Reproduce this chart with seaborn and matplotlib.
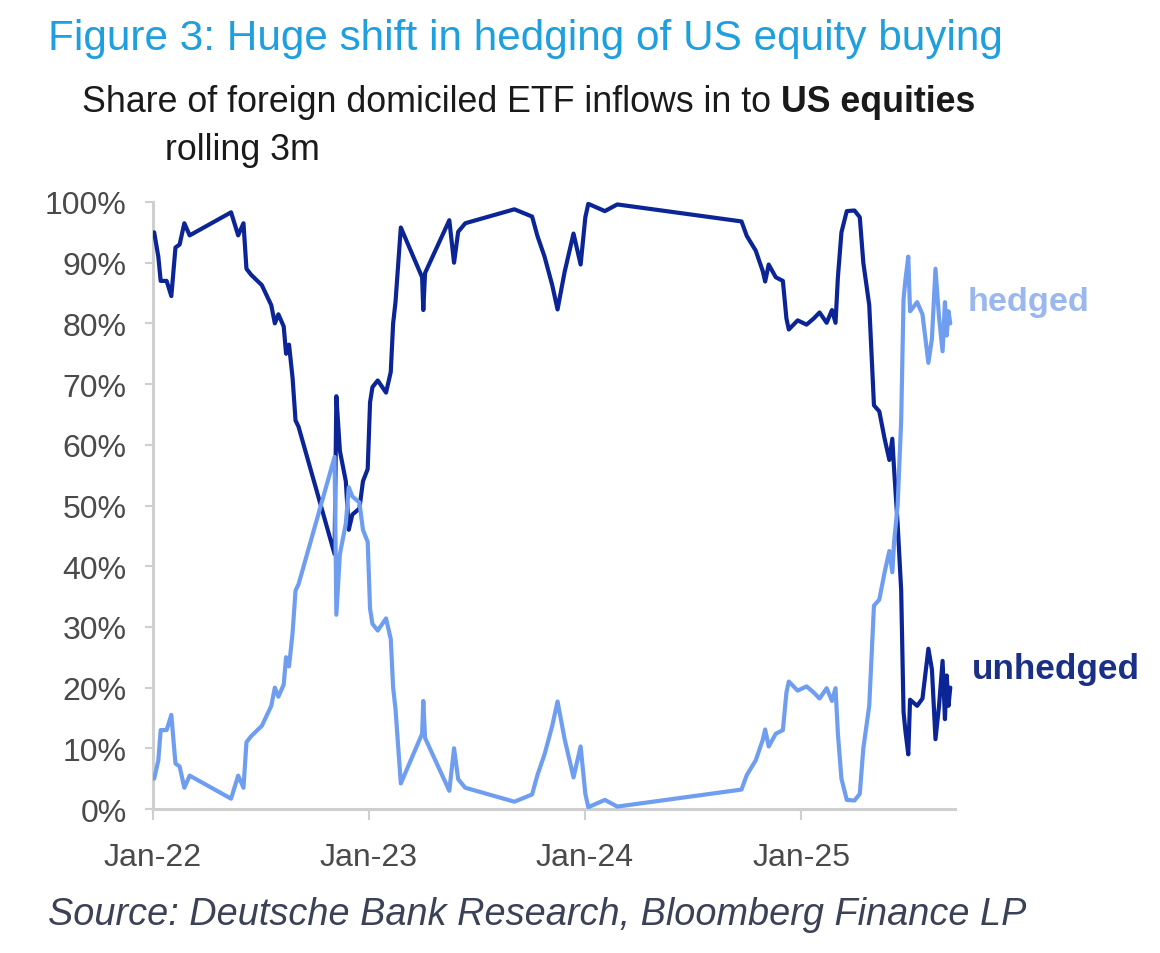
import matplotlib
matplotlib.use("Agg")
import matplotlib.pyplot as plt
import matplotlib.ticker as mticker
import seaborn as sns
import pandas as pd

# ---------------- data ----------------
dates = [
    "2022-01-03", "2022-01-10", "2022-01-14", "2022-01-24", "2022-02-01", "2022-02-08",
    "2022-02-15", "2022-02-23", "2022-03-04", "2022-05-13", "2022-05-25", "2022-06-03",
    "2022-06-08", "2022-06-16", "2022-07-04", "2022-07-20", "2022-07-26", "2022-08-01",
    "2022-08-10", "2022-08-14", "2022-08-19", "2022-08-25", "2022-08-30", "2022-09-04",
    "2022-11-04", "2022-11-07", "2022-11-13", "2022-11-23", "2022-11-28", "2022-12-04",
    "2022-12-16", "2022-12-22", "2022-12-30", "2023-01-03", "2023-01-07", "2023-01-16",
    "2023-01-30", "2023-02-07", "2023-02-11", "2023-02-15", "2023-02-24", "2023-04-01",
    "2023-04-03", "2023-04-06", "2023-05-17", "2023-05-25", "2023-06-01", "2023-06-13",
    "2023-09-04", "2023-10-04", "2023-10-13", "2023-10-25", "2023-11-07", "2023-11-16",
    "2023-11-28", "2023-12-13", "2023-12-25", "2024-01-02", "2024-01-07", "2024-02-04",
    "2024-02-25", "2024-09-22", "2024-10-01", "2024-10-16", "2024-10-28", "2024-11-01",
    "2024-11-07", "2024-11-19", "2024-12-01", "2024-12-07", "2024-12-11", "2024-12-19",
    "2024-12-26", "2025-01-10", "2025-01-22", "2025-02-01", "2025-02-13", "2025-02-22",
    "2025-02-28", "2025-03-04", "2025-03-10", "2025-03-19", "2025-04-01", "2025-04-10",
    "2025-04-16", "2025-04-26", "2025-05-04", "2025-05-13", "2025-05-22", "2025-05-30",
    "2025-06-04", "2025-06-07", "2025-06-13", "2025-06-19", "2025-06-23", "2025-06-26",
    "2025-07-01", "2025-07-04", "2025-07-16", "2025-07-25", "2025-08-04", "2025-08-10",
    "2025-08-16", "2025-08-22", "2025-08-28", "2025-09-01", "2025-09-04", "2025-09-07",
    "2025-09-10",
]

unhedged = [
    95.0, 91.0, 87.0, 87.0, 84.5, 92.5, 93.0, 96.5, 94.5, 98.3, 94.5, 96.5,
    89.0, 88.0, 86.3, 83.0, 80.0, 81.5, 79.5, 75.0, 76.5, 71.0, 64.0, 63.0,
    42.0, 68.0, 59.0, 54.0, 46.0, 48.5, 49.5, 54.0, 56.0, 67.0, 69.5, 70.6,
    68.6, 72.0, 80.0, 83.5, 95.8, 87.6, 82.2, 88.3, 97.0, 90.0, 95.1, 96.5,
    98.8, 97.6, 94.4, 91.0, 86.3, 82.3, 88.5, 94.8, 89.7, 97.5, 99.7, 98.5,
    99.6, 96.8, 94.4, 92.0, 88.6, 86.9, 89.7, 87.6, 87.0, 80.8, 79.0, 79.8,
    80.5, 79.8, 80.8, 81.8, 80.1, 82.2, 80.1, 87.6, 95.0, 98.5, 98.6, 97.5,
    90.0, 83.0, 66.5, 65.5, 61.0, 57.5, 61.0, 56.0, 47.0, 36.0, 16.0, 13.0,
    9.0, 18.0, 17.0, 18.2, 26.4, 23.0, 11.5, 17.0, 24.4, 14.8, 22.0, 17.0,
    20.0,
]

hedged = [
    5.0, 8.0, 13.0, 13.0, 15.5, 7.5, 7.0, 3.5, 5.5, 1.7, 5.5, 3.5,
    11.0, 12.0, 13.7, 17.0, 20.0, 18.5, 20.5, 25.0, 23.5, 29.0, 36.0, 37.0,
    58.0, 32.0, 42.0, 47.0, 53.0, 51.5, 50.5, 46.0, 44.0, 33.0, 30.5, 29.4,
    31.4, 28.0, 20.0, 16.5, 4.2, 12.4, 17.8, 11.7, 3.0, 10.0, 4.9, 3.5,
    1.2, 2.4, 5.6, 9.0, 13.7, 17.7, 11.5, 5.2, 10.3, 2.5, 0.3, 1.5,
    0.4, 3.2, 5.6, 8.0, 11.4, 13.1, 10.3, 12.4, 13.0, 19.2, 21.0, 20.2,
    19.5, 20.2, 19.2, 18.2, 19.9, 17.8, 19.9, 12.4, 5.0, 1.5, 1.4, 2.5,
    10.0, 17.0, 33.5, 34.5, 39.0, 42.5, 39.0, 44.0, 50.0, 64.0, 84.0, 87.0,
    91.0, 82.0, 83.5, 81.5, 73.5, 77.5, 89.0, 81.0, 75.4, 83.5, 78.0, 82.0,
    80.0,
]

tick_dates = ["2022-01-01", "2023-01-01", "2024-01-01", "2025-01-01"]
tick_labels = ["Jan-22", "Jan-23", "Jan-24", "Jan-25"]
y_ticks = [0, 10, 20, 30, 40, 50, 60, 70, 80, 90, 100]

title_text = "Figure 3: Huge shift in hedging of US equity buying"
subtitle_normal = "Share of foreign domiciled ETF inflows in to "
subtitle_bold = "US equities"
subtitle_line2 = "rolling 3m"
source_text = "Source: Deutsche Bank Research, Bloomberg Finance LP"
label_hedged = "hedged"
label_unhedged = "unhedged"

# ---------------- styling ----------------
DARK = "#0c2596"
LIGHT = "#6f9df0"
AXIS_GRAY = "#cfcfcf"
TICK_TXT = "#4a4a4a"

sns.set_theme(style="white")
plt.rcParams["font.family"] = ["Liberation Sans", "DejaVu Sans"]
NARROW = ["Liberation Sans Narrow", "Liberation Sans", "DejaVu Sans"]

W, H = 1160, 954
fig = plt.figure(figsize=(W / 100, H / 100), dpi=100)
fig.patch.set_facecolor("white")

ax_left, ax_right = 153, 955
ax_bottom, ax_top = 810, 203
ax = fig.add_axes([ax_left / W, 1 - ax_bottom / H,
                   (ax_right - ax_left) / W, (ax_bottom - ax_top) / H])

df = pd.DataFrame({"date": pd.to_datetime(dates), "unhedged": unhedged, "hedged": hedged})

sns.lineplot(data=df, x="date", y="unhedged", ax=ax, color=DARK, lw=3.0, zorder=3)
sns.lineplot(data=df, x="date", y="hedged", ax=ax, color=LIGHT, lw=3.0, zorder=4)

ax.set_xlim(pd.Timestamp("2022-01-01"), pd.Timestamp("2025-09-18"))
ax.set_ylim(0, 100)
ax.set_xlabel("")
ax.set_ylabel("")

ax.set_xticks(pd.to_datetime(tick_dates))
ax.set_xticklabels(tick_labels)
ax.set_yticks(y_ticks)
ax.yaxis.set_major_formatter(mticker.FuncFormatter(lambda v, p: f"{int(v)}%"))

for s in ["top", "right"]:
    ax.spines[s].set_visible(False)
for s in ["left", "bottom"]:
    ax.spines[s].set_color(AXIS_GRAY)
    ax.spines[s].set_linewidth(2.2)

ax.tick_params(axis="y", which="major", left=True, length=6, width=1.5, color=AXIS_GRAY,
               labelsize=23, labelcolor=TICK_TXT, pad=13)
ax.tick_params(axis="x", which="major", bottom=True, length=8, width=1.5, color=AXIS_GRAY,
               labelsize=23, labelcolor=TICK_TXT, pad=16)
ax.grid(False)
ax.set_facecolor("white")

# ---------------- text helpers ----------------
fig.canvas.draw()
renderer = fig.canvas.get_renderer()


def px(x, y):
    return x / W, 1 - y / H


def width_px(t):
    return t.get_window_extent(renderer).width


def fit_text(x, y, s, target_w, base=20, **kw):
    t = fig.text(*px(x, y), s, fontsize=base, **kw)
    w = width_px(t)
    t.set_fontsize(base * target_w / w)
    return t


fit_text(48, 50, title_text, 952, color="#1ea0de", va="baseline", ha="left")

t1 = fig.text(*px(82, 112), subtitle_normal, fontsize=20, family=NARROW, color="#1a1a1a",
              va="baseline", ha="left")
t2 = fig.text(*px(82, 112), subtitle_bold, fontsize=20, family=NARROW, color="#1a1a1a",
              fontweight="bold", va="baseline", ha="left")
w_total = width_px(t1) + width_px(t2)
fs = 20 * 893 / w_total
t1.set_fontsize(fs)
t2.set_fontsize(fs)
w1 = width_px(t1)
t2.set_position(px(82 + w1, 112))
fig.text(*px(165, 160), subtitle_line2, fontsize=fs, family=NARROW, color="#1a1a1a",
         va="baseline", ha="left")

fit_text(48, 925, source_text, 975, color="#3b4256", style="italic", va="baseline", ha="left")

fit_text(968, 302, label_hedged, 122, color="#9ab8ee", fontweight="bold", family=NARROW,
         va="center", ha="left")
fit_text(972, 670, label_unhedged, 168, color="#1a2f86", fontweight="bold", family=NARROW,
         va="center", ha="left")

fig.savefig("out.png", dpi=100, facecolor="white")
